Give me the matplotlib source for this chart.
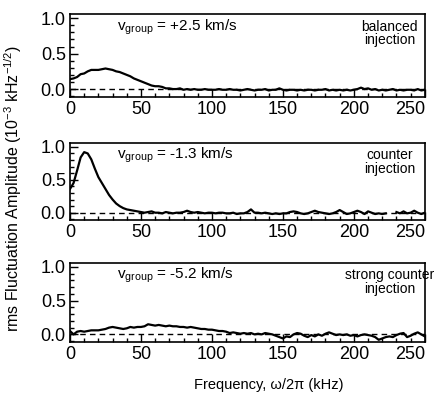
import numpy as np
import matplotlib
matplotlib.use("Agg")
import matplotlib.pyplot as plt
from matplotlib.ticker import MultipleLocator

plt.rcParams['font.family'] = ['Liberation Sans', 'DejaVu Sans']
plt.rcParams['mathtext.fontset'] = 'custom'
plt.rcParams['mathtext.rm'] = 'Liberation Sans'

# frequency grid (kHz), 2.5 kHz steps 0..250
freq = np.arange(0, 250.1, 2.5)

balanced = [
    0.14, 0.15, 0.17, 0.21, 0.22, 0.25, 0.27, 0.27, 0.27, 0.28,
    0.29, 0.28, 0.27, 0.25, 0.24, 0.22, 0.20, 0.18, 0.15, 0.13,
    0.11, 0.09, 0.07, 0.05, 0.04, 0.04, 0.03, 0.01, 0.01, 0.00,
    0.00, 0.01, -0.01, 0.00, -0.01, 0.00, -0.01, -0.01, 0.00, -0.01,
    -0.01, -0.01, 0.00, -0.01, -0.01, 0.00, -0.01, -0.01, -0.02, -0.01,
    0.00, -0.01, -0.02, -0.01, -0.01, 0.00, -0.02, -0.01, -0.01, 0.01,
    -0.01, -0.02, -0.01, -0.01, -0.02, -0.01, -0.02, -0.01, -0.01, -0.02,
    -0.01, -0.01, 0.00, -0.02, -0.01, -0.02, -0.01, -0.02, -0.01, -0.02,
    -0.01, 0.00, 0.02, 0.00, 0.01, -0.01, 0.00, -0.02, -0.01, -0.02,
    -0.01, 0.00, -0.02, -0.01, -0.02, -0.01, -0.01, -0.02, 0.00, -0.02,
    -0.01]

counter = [
    0.36, 0.45, 0.64, 0.84, 0.92, 0.90, 0.81, 0.67, 0.54, 0.45,
    0.36, 0.27, 0.20, 0.14, 0.10, 0.07, 0.05, 0.04, 0.03, 0.02,
    0.01, 0.00, 0.01, 0.02, 0.00, 0.00, -0.01, 0.01, 0.00, -0.01,
    0.00, 0.00, 0.01, 0.03, 0.01, 0.00, 0.01, 0.00, -0.01, 0.00,
    0.00, -0.01, 0.00, 0.00, -0.01, -0.01, 0.00, -0.02, -0.01, -0.01,
    0.01, 0.05, 0.00, 0.00, -0.01, 0.00, -0.01, -0.02, -0.01, -0.02,
    -0.01, -0.01, 0.01, 0.02, 0.01, -0.01, -0.02, -0.01, 0.01, 0.03,
    0.01, 0.00, -0.01, -0.02, -0.01, 0.01, 0.04, 0.01, -0.02, -0.01,
    0.01, 0.03, 0.01, -0.02, 0.02, 0.00, -0.02, -0.01, -0.02, -0.01,
    np.nan, np.nan, 0.01, -0.01, 0.02, -0.01, 0.00, 0.03, 0.00, -0.02,
    0.00]

strong = [
    0.05, 0.00, 0.04, 0.05, 0.04, 0.05, 0.06, 0.06, 0.06, 0.07,
    0.08, 0.10, 0.11, 0.10, 0.09, 0.08, 0.09, 0.11, 0.10, 0.11,
    0.11, 0.12, 0.15, 0.14, 0.13, 0.14, 0.13, 0.12, 0.13, 0.12,
    0.12, 0.11, 0.11, 0.10, 0.11, 0.10, 0.09, 0.08, 0.08, 0.07,
    0.07, 0.06, 0.05, 0.05, 0.04, 0.02, 0.03, 0.02, 0.01, 0.02,
    0.01, 0.02, 0.00, 0.01, 0.00, 0.02, 0.01, 0.00, -0.02, -0.04,
    -0.06, -0.03, -0.04, 0.00, 0.02, 0.01, -0.02, -0.04, -0.01, -0.03,
    0.00, -0.02, 0.01, 0.03, 0.01, -0.01, 0.00, -0.01, 0.00, -0.02,
    -0.01, -0.03, -0.01, 0.00, -0.01, -0.02, -0.04, -0.08, -0.06, -0.04,
    -0.03, -0.04, -0.01, 0.01, 0.02, -0.04, -0.02, 0.01, 0.03, 0.00,
    -0.03]

vgroup_labels = ["+2.5 km/s", "-1.3 km/s", "-5.2 km/s"]
case_labels = ["balanced\ninjection", "counter\ninjection", "strong counter\ninjection"]
xtick_labels = ["0", "50", "100", "150", "200", "250"]
ytick_labels = ["0.0", "0.5", "1.0"]
series = [balanced, counter, strong]

fig = plt.figure(figsize=(4.43, 3.97), dpi=100)
# axes boxes in figure fractions (left, bottom, width, height)
boxes = [(0.158, 0.756, 0.801, 0.209),
         (0.158, 0.446, 0.801, 0.194),
         (0.158, 0.139, 0.801, 0.199)]

for box, y, vg, case in zip(boxes, series, vgroup_labels, case_labels):
    ax = fig.add_axes(box)
    ax.plot(freq, y, color='black', lw=1.6)
    ax.plot([0, 250], [0, 0], color='black', lw=1.0, ls=(0, (4, 3)))
    ax.set_xlim(0, 250)
    ax.set_ylim(-0.11, 1.06)
    ax.xaxis.set_minor_locator(MultipleLocator(10))
    ax.yaxis.set_minor_locator(MultipleLocator(0.1))
    ax.set_xticks([0, 50, 100, 150, 200, 250])
    ax.set_xticklabels(xtick_labels)
    ax.set_yticks([0, 0.5, 1.0])
    ax.set_yticklabels(ytick_labels)
    ax.get_xticklabels()[-1].set_horizontalalignment('right')
    ax.tick_params(which='both', direction='in', top=False, right=False,
                   labelsize=13, pad=3)
    ax.tick_params(which='major', length=6, width=1)
    ax.tick_params(which='minor', length=3, width=1)
    for s in ax.spines.values():
        s.set_linewidth(1.2)
    ax.text(0.133, 0.80, r"$\mathregular{v_{group}}$ = " + vg, transform=ax.transAxes,
            fontsize=11, va='baseline', ha='left')
    ax.text(0.9, 0.93, case, transform=ax.transAxes, fontsize=10,
            va='top', ha='center', linespacing=0.95)

fig.text(0.607, 0.03, "Frequency, \u03c9/2\u03c0 (kHz)", ha='center', va='center', fontsize=10.5)
fig.text(0.03, 0.525, r"rms Fluctuation Amplitude (10$^{\mathregular{-3}}$ kHz$^{\mathregular{-1/2}}$)",
         rotation=90, ha='center', va='center', fontsize=11.5)

fig.savefig("out.png", dpi=100)
